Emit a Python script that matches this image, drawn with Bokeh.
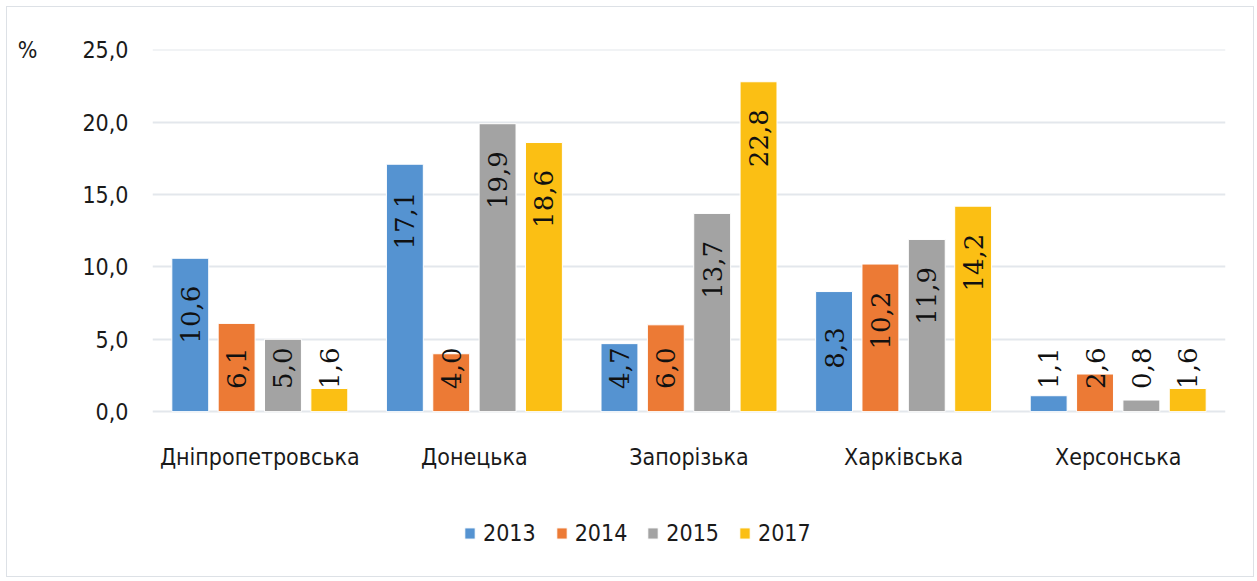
import numpy as np
from bokeh.plotting import figure
from bokeh.models import (ColumnDataSource, FactorRange, FixedTicker, CustomJSTickFormatter,
                          Range1d, Legend, LegendItem, LinearAxis)
from bokeh.transform import dodge
from bokeh.embed import file_html
from bokeh.resources import INLINE
from bokeh.core.properties import value

# ---- data ----
regions = ["Дніпропетровська", "Донецька", "Запорізька", "Харківська", "Херсонська"]
years = ["2013", "2014", "2015", "2017"]
v2013 = [10.6, 17.1, 4.7, 8.3, 1.1]
v2014 = [6.1, 4.0, 6.0, 10.2, 2.6]
v2015 = [5.0, 19.9, 13.7, 11.9, 0.8]
v2017 = [1.6, 18.6, 22.8, 14.2, 1.6]
y_ticks = [0, 5, 10, 15, 20, 25]
y_unit = "%"

series = [v2013, v2014, v2015, v2017]
colors = ["#5593d1", "#ec7a35", "#a3a3a3", "#fbbf14"]
offsets = [-0.324, -0.108, 0.108, 0.324]
BAR_W = 0.172

SANS = "DejaVu Sans Condensed"
SERIF = "DejaVu Serif"
GRID = "#e3e7ec"
TXT = "#1a1a1a"
FS = "23px"

# frame: value axis 0..25 takes the top 362 px; space below holds categories and legend
PLOT_H = 362
FRAME_H = 527
y_top = y_ticks[-1]
y_bottom = -y_top * (FRAME_H - PLOT_H) / PLOT_H

p = figure(x_range=FactorRange(factors=regions, range_padding=0),
           y_range=Range1d(y_bottom, y_top + 0.03),
           frame_width=1073, frame_height=FRAME_H,
           min_border_left=145, min_border_right=28, min_border_top=42, min_border_bottom=0,
           output_backend="svg", toolbar_location=None)
p.styles = {"border": "1px solid #dde1e6", "margin": "6px 0 0 6px"}
p.outline_line_color = None
p.background_fill_color = "white"
p.border_fill_color = "white"

items = []
for yr, vals, col, off in zip(years, series, colors, offsets):
    src = ColumnDataSource(dict(
        region=regions,
        val=vals,
        pos=[max(v - 3.9, 3.0) for v in vals],
        lbl=[f"{v:.1f}".replace(".", ",") for v in vals],
    ))
    r = p.vbar(x=dodge("region", off, range=p.x_range), top="val", bottom=0, width=BAR_W,
               fill_color=col, line_color="white", line_width=1, source=src)
    items.append(LegendItem(label=yr, renderers=[r]))
    p.text(x=dodge("region", off, range=p.x_range), y="pos", text="lbl", angle=np.pi / 2,
           text_align="center", text_baseline="middle", text_color="#111111",
           text_font=value(SERIF), text_font_size="26px", source=src)

# category labels under the baseline
cat_src = ColumnDataSource(dict(region=regions, y=[0] * len(regions)))
p.text(x="region", y="y", text="region", y_offset=45, text_align="center",
       text_baseline="middle", text_font=value(SANS), text_font_size=FS,
       text_color=TXT, source=cat_src)

# axes
p.xaxis.visible = False
p.xgrid.grid_line_color = None
p.ygrid.grid_line_color = GRID
p.ygrid.grid_line_width = 2
p.yaxis.ticker = FixedTicker(ticks=y_ticks)
p.yaxis.formatter = CustomJSTickFormatter(code="return tick.toFixed(1).replace('.', ',');")

unit_axis = LinearAxis(ticker=FixedTicker(ticks=[y_ticks[-1]]),
                       major_label_overrides={y_ticks[-1]: y_unit})
p.add_layout(unit_axis, "left")

for ax in (p.yaxis[0], unit_axis):
    ax.axis_line_color = None
    ax.major_tick_line_color = None
    ax.minor_tick_line_color = None
    ax.major_tick_out = 0
    ax.minor_tick_out = 0
    ax.major_tick_in = 0
    ax.minor_tick_in = 0
    ax.major_label_text_font = SANS
    ax.major_label_text_font_size = FS
    ax.major_label_text_color = TXT
p.yaxis[0].major_label_standoff = 24
unit_axis.major_label_standoff = 42

lg = Legend(items=items, orientation="horizontal", location=(311, 30))
lg.border_line_color = None
lg.background_fill_alpha = 0
lg.padding = 0
lg.margin = 0
lg.spacing = 19
lg.glyph_width = 13
lg.glyph_height = 14
lg.label_standoff = 7
lg.label_text_font = SANS
lg.label_text_font_size = FS
lg.label_text_color = TXT
p.add_layout(lg, "center")

open("out.html", "w").write(file_html(p, INLINE))
